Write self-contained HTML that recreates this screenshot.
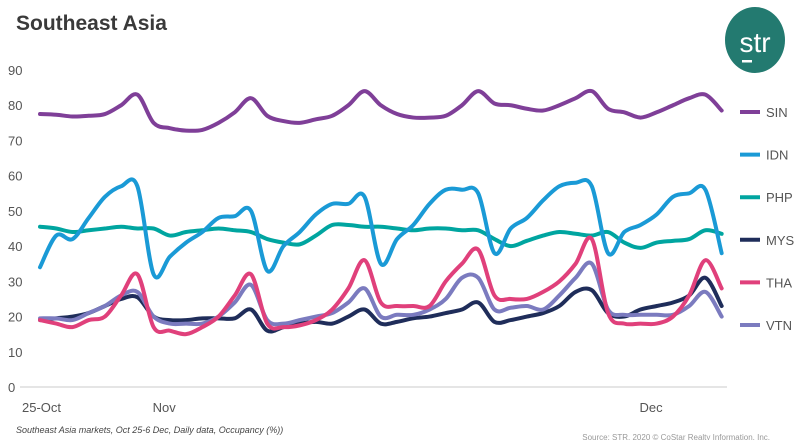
<!DOCTYPE html>
<html><head><meta charset="utf-8"><style>
body{margin:0;background:#fff;font-family:"Liberation Sans",sans-serif}
</style></head><body>
<svg id="c" width="800" height="440" xmlns="http://www.w3.org/2000/svg">
<text x="16" y="30" font-size="21" font-weight="bold" fill="#3a3a3a">Southeast Asia</text>
<g>
<ellipse cx="755" cy="40" rx="30" ry="33" fill="#237a70"/>
<text x="755" y="52" font-size="28" fill="#fff" text-anchor="middle">str</text>
<rect x="742" y="60" width="10" height="2.5" fill="#fff"/>
</g>
<line x1="20" y1="387" x2="727" y2="387" stroke="#e5e5e5" stroke-width="2"/>
<g id="yt"></g><g id="xt"></g><g id="lines"></g><g id="leg"></g>
<text x="16" y="433" font-size="9" font-style="italic" fill="#444">Southeast Asia markets, Oct 25-6 Dec, Daily data, Occupancy (%))</text>
<text x="770" y="440" font-size="8" fill="#999" text-anchor="end">Source: STR. 2020 © CoStar Realty Information, Inc.</text>
</svg>
<script>
const yTicks=[0,10,20,30,40,50,60,70,80,90];
const xLabels=["25-Oct","Nov","Dec"];
const xLabelIdx=[0,7,37];
const seriesNames=["SIN","IDN","PHP","MYS","THA","VTN"];
const colors=["#7f3f98","#1a9ad6","#00a5a0","#1f2d5a","#e0407b","#7b7bbf"];
const SIN=[77.5,77.3,76.8,77,77.5,80,83,75,73.5,72.8,73,75,78,82,77,75.5,75,76,77,80,84,80,77.5,76.5,76.5,77,80,84,80.5,80,79,78.5,80,82,84,79,78,76.5,78,80,82,83,78.5];
const IDN=[34,43,42,48,54,57,57,32,37,41,44,48,48.5,50,33,40,44,49,52,52,54,35,42,46,52,56,56,55,38,45,48,53,57,58,57,38,44,46,49,54,55,56,38];
const PHP=[45.5,45,44,44.5,45,45.5,45,45,43,44,44.5,45,44.5,44,42,41,40.5,43,46,46,45.5,45.5,45,44.5,45,45,44.5,44.5,42,40,41.5,43,44,43.5,43,44,41,39.5,41,41.5,42,44.5,43.5];
const MYS=[19,19.5,20,21,23,25,25.5,20,19,19,19.5,19.5,19.5,22,16,17,18,18.5,18,20,22,18,18.5,19.5,20,21,22,24,18.5,19,20,21,23,27,27.5,21,20,22,23,24,26,31,23];
const THA=[19,18,17,19,20,26,32,17,16,15,17,20,26,32,18,17,17.5,19,22,28,36,24,23,23,23,30,35,39,26,25,25,27,30,35,42,21,18,18,18,20,26,36,28];
const VTN=[19.5,19.5,19,21,23,26,27,20,18,18,18,20,24,29,19,18,19,20,21,24,28,20,20.5,20.5,22,25,31,31,22,22.5,23,22,26,31,35,22,20.5,20.5,20.5,20.5,23,27,20];
const series=[SIN,IDN,PHP,MYS,THA,VTN];
const NS="http://www.w3.org/2000/svg";
const X=i=>40+i*16.23, Y=v=>387-v*3.522;
function mk(t,a,p){const e=document.createElementNS(NS,t);for(const k in a)e.setAttribute(k,a[k]);document.getElementById(p).appendChild(e);return e;}
yTicks.forEach(v=>{const t=mk("text",{x:8,y:Y(v)+5,"font-size":13,fill:"#555"},"yt");t.textContent=v;

});
xLabels.forEach((l,k)=>{const t=mk("text",{x:X(xLabelIdx[k])-(k==0?18:1),y:412,"font-size":13,fill:"#555"},"xt");t.textContent=l;

});
function path(d){const p=d.map((v,i)=>[X(i),Y(v)]);let s=`M${p[0][0]},${p[0][1]}`;
for(let i=0;i<p.length-1;i++){const p0=p[i-1]||p[i],p1=p[i],p2=p[i+1],p3=p[i+2]||p2;
s+=` C${p1[0]+(p2[0]-p0[0])/6},${p1[1]+(p2[1]-p0[1])/6} ${p2[0]-(p3[0]-p1[0])/6},${p2[1]-(p3[1]-p1[1])/6} ${p2[0]},${p2[1]}`;}return s;}
[0,2,1,3,5,4].forEach(k=>{const e=mk("path",{d:path(series[k]),fill:"none",stroke:colors[k],"stroke-width":4,"stroke-linejoin":"round","stroke-linecap":"round"},"lines");

});
seriesNames.forEach((n,k)=>{const y=112+k*42.6;
const l=mk("line",{x1:740,x2:760,y1:y,y2:y,stroke:colors[k],"stroke-width":4},"leg");


const t=mk("text",{x:766,y:y+5,"font-size":13,fill:"#555"},"leg");t.textContent=n;

});
</script>
</body></html>
